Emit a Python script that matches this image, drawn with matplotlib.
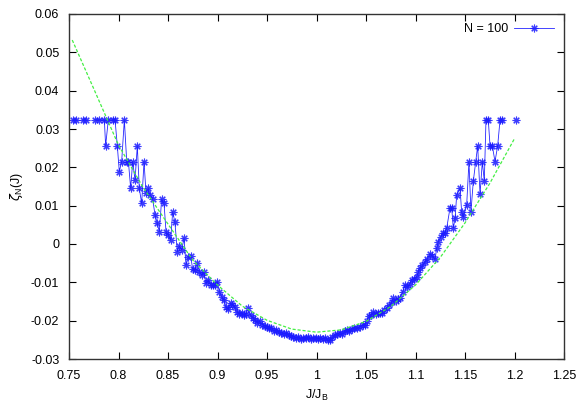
import numpy as np
import matplotlib
matplotlib.use("Agg")
import matplotlib.pyplot as plt

plt.rcParams["font.family"] = ["Liberation Sans", "DejaVu Sans"]

# ── data ─────────────────────────────────────────────────
# measured zeta_N(J) for N = 100 (nan = gap in the curve)
j_data = [0.7543, 0.7575, np.nan, 0.7640, 0.7670, np.nan,
          0.7760, 0.7806, 0.7857, 0.7870, 0.7897, 0.7947, 0.7965, 0.7988, 0.8008, 0.8032,
          0.8059, 0.8083, 0.8100, 0.8123, 0.8143, 0.8167, 0.8190, 0.8210, 0.8234, 0.8258,
          0.8278, 0.8301, 0.8320, 0.8345, 0.8369, 0.8392, 0.8412, 0.8436, 0.8460, 0.8480,
          0.8503, 0.8527, 0.8547, 0.8570, 0.8594, 0.8614, 0.8638, 0.8662, 0.8682, 0.8705,
          0.8729, 0.8749, 0.8773, 0.8796, 0.8816, 0.8840, 0.8860, 0.8884, 0.8907, 0.8931,
          0.8950, 0.8975, 0.8998, 0.9018, 0.9042, 0.9065, 0.9086, 0.9109, 0.9133, 0.9150,
          0.9177, 0.9200, 0.9220, 0.9244, 0.9267, 0.9287, 0.9311, 0.9335, 0.9355, 0.9380,
          0.9400, 0.9425, 0.9450, 0.9475, 0.9497, 0.9520, 0.9545, 0.9570, 0.9595, 0.9620,
          0.9645, 0.9670, 0.9695, 0.9720, 0.9745, 0.9766, 0.9790, 0.9815, 0.9840, 0.9865,
          0.9890, 0.9915, 0.9940, 0.9968, 0.9990, 1.0015, 1.0040, 1.0065, 1.0090, 1.0115,
          1.0136, 1.0160, 1.0185, 1.0210, 1.0235, 1.0260, 1.0285, 1.0305, 1.0330, 1.0355,
          1.0380, 1.0405, 1.0440, 1.0465, 1.0490, 1.0510, 1.0535, 1.0555, 1.0574, 1.0600,
          1.0620, 1.0640, 1.0659, 1.0685, 1.0709, 1.0735, 1.0760, 1.0776, 1.0800, 1.0820,
          1.0843, 1.0870, 1.0894, 1.0915, 1.0940, 1.0962, 1.0985, 1.1012, 1.1030, 1.1045,
          1.1070, 1.1096, 1.1120, 1.1146, 1.1170, 1.1197, 1.1215, 1.1230, 1.1255, 1.1280,
          1.1300, 1.1315, 1.1348, 1.1366, 1.1382, 1.1400, 1.1416, 1.1450, 1.1466, 1.1483,
          1.1517, 1.1540, 1.1560, 1.1584, 1.1608, 1.1628, 1.1652, 1.1675, 1.1695, 1.1712,
          1.1735, 1.1753, 1.1776, 1.1803, 1.1830, 1.1854, 1.1871, np.nan, 1.2012]
zeta_data = [0.0324, 0.0324, np.nan, 0.0324, 0.0324, np.nan,
             0.0324, 0.0324, 0.0324, 0.0256, 0.0324, 0.0324, 0.0324, 0.0256, 0.0189, 0.0215,
             0.0324, 0.0215, 0.0215, 0.0145, 0.0215, 0.0167, 0.0256, 0.0145, 0.0106, 0.0215,
             0.0132, 0.0145, 0.0128, 0.0117, 0.0076, 0.0054, 0.0032, 0.0117, 0.0106, 0.0032,
             0.0023, 0.0010, 0.0084, 0.0057, -0.0020, -0.0005, -0.0016, 0.0015, -0.0055, -0.0035,
             -0.0031, -0.0066, -0.0068, -0.0050, -0.0072, -0.0081, -0.0072, -0.0103, -0.0094, -0.0107,
             -0.0108, -0.0108, -0.0098, -0.0124, -0.0137, -0.0146, -0.0164, -0.0170, -0.0155, -0.0159,
             -0.0164, -0.0177, -0.0182, -0.0181, -0.0185, -0.0182, -0.0168, -0.0186, -0.0192, -0.0198,
             -0.0205, -0.0202, -0.0210, -0.0214, -0.0216, -0.0220, -0.0218, -0.0226, -0.0224, -0.0229,
             -0.0232, -0.0235, -0.0233, -0.0238, -0.0240, -0.0242, -0.0246, -0.0243, -0.0247, -0.0244,
             -0.0246, -0.0243, -0.0247, -0.0246, -0.0244, -0.0247, -0.0245, -0.0248, -0.0244, -0.0251,
             -0.0250, -0.0243, -0.0238, -0.0236, -0.0232, -0.0234, -0.0228, -0.0224, -0.0226, -0.0222,
             -0.0219, -0.0220, -0.0216, -0.0212, -0.0211, -0.0200, -0.0188, -0.0185, -0.0177, -0.0182,
             -0.0180, -0.0181, -0.0181, -0.0172, -0.0168, -0.0160, -0.0151, -0.0142, -0.0148, -0.0143,
             -0.0142, -0.0125, -0.0107, -0.0113, -0.0104, -0.0094, -0.0090, -0.0085, -0.0074, -0.0063,
             -0.0056, -0.0046, -0.0038, -0.0026, -0.0031, -0.0040, -0.0010, 0.0006, 0.0018, 0.0028,
             0.0030, 0.0041, 0.0093, 0.0093, 0.0041, 0.0067, 0.0128, 0.0145, 0.0084, 0.0070,
             0.0102, 0.0215, 0.0084, 0.0164, 0.0215, 0.0256, 0.0130, 0.0215, 0.0164, 0.0324,
             0.0324, 0.0256, 0.0256, 0.0215, 0.0256, 0.0324, 0.0324, np.nan, 0.0324]

# smooth reference curve (green dashed)
j_fit = [0.7533, 0.775, 0.80, 0.825, 0.85, 0.875, 0.90, 0.925, 0.95, 0.975,
         1.0, 1.025, 1.05, 1.075, 1.10, 1.125, 1.15, 1.175, 1.2]
zeta_fit = [0.0532, 0.0405, 0.0258, 0.0147, 0.0052, -0.0042, -0.0107, -0.0162, -0.0199, -0.0222,
            -0.0230, -0.0224, -0.0202, -0.0163, -0.0107, -0.0035, 0.0055, 0.0158, 0.0275]

x_ticks = [0.75, 0.8, 0.85, 0.9, 0.95, 1, 1.05, 1.1, 1.15, 1.2, 1.25]
x_labels = ["0.75", "0.8", "0.85", "0.9", "0.95", "1", "1.05", "1.1", "1.15", "1.2", "1.25"]
y_ticks = [-0.03, -0.02, -0.01, 0, 0.01, 0.02, 0.03, 0.04, 0.05, 0.06]
y_labels = ["-0.03", "-0.02", "-0.01", "0", "0.01", "0.02", "0.03", "0.04", "0.05", "0.06"]

# ── figure ───────────────────────────────────────────────
fig = plt.figure(figsize=(5.81, 4.07), dpi=100)
ax = fig.add_axes([69 / 581, 1 - 359 / 407, 495 / 581, 345 / 407])

asterisk = (8, 2, 0)
ax.plot(j_data, zeta_data, color="#0000ff", lw=0.6, alpha=0.85,
        marker=asterisk, ms=5.5, mew=0.8, mec="#1a1aff", label="N = 100")
ax.plot(j_fit, zeta_fit, color="#44ee44", lw=0.9, ls=(0, (2.5, 1.5)))

ax.set_xlim(0.75, 1.25)
ax.set_ylim(-0.03, 0.06)
ax.set_xticks(x_ticks)
ax.set_xticklabels(x_labels)
ax.set_yticks(y_ticks)
ax.set_yticklabels(y_labels)
ax.tick_params(direction="in", length=5, width=0.8, labelsize=9,
               top=True, right=True)
ax.tick_params(axis="x", pad=8)
ax.tick_params(axis="y", pad=7)
for s in ax.spines.values():
    s.set_linewidth(1.0)
    s.set_color("#333333")

ax.set_xlabel("J/J$_\\mathregular{B}$", fontsize=9, labelpad=4)
ax.set_ylabel("$\\zeta_\\mathregular{N}$(J)", fontsize=9, labelpad=4)

ax.legend(loc="upper right", frameon=False, markerfirst=False, fontsize=9,
          handlelength=3.2, handletextpad=0.5, borderaxespad=0.2,
          bbox_to_anchor=(0.995, 0.995))

fig.savefig("out.png", dpi=100)
